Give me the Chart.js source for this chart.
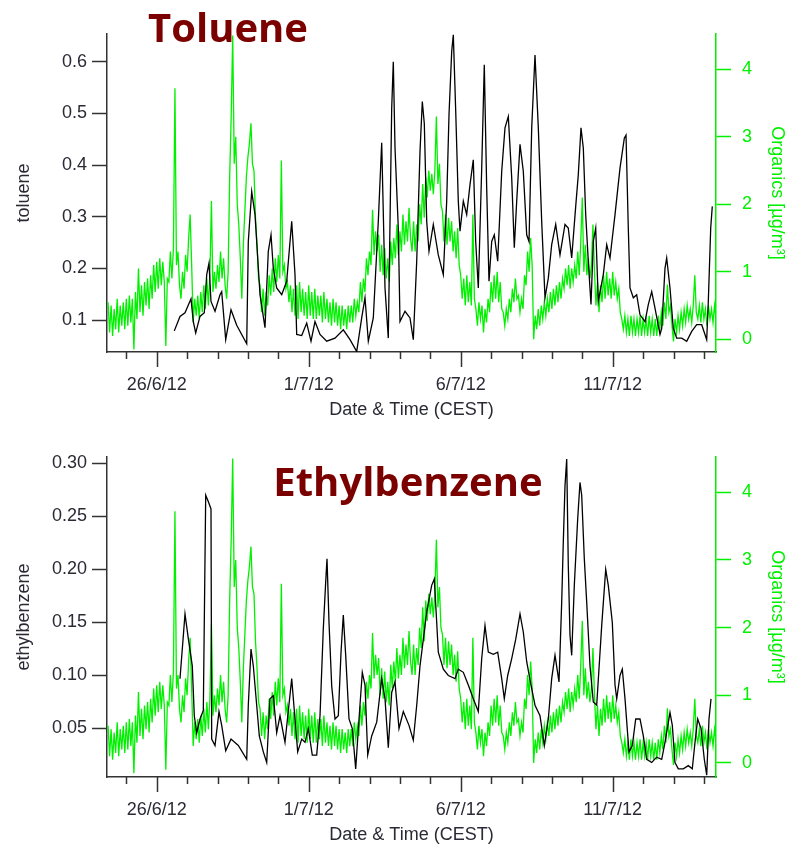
<!DOCTYPE html>
<html lang="en">
<head>
  <meta charset="UTF-8">
  <title>Toluene / Ethylbenzene vs Organics</title>
  <script src="https://cdn.jsdelivr.net/npm/chart.js"></script>
  <style>
    body { margin: 0; background: #fff; }
    .wrap { position: relative; width: 794px; height: 847px; }
    canvas { position: absolute; left: 0; }
    #c1 { top: 0; }
    #c2 { top: 423px; }
    .titulo {
      position: absolute;
      font-family: 'Open Sans', sans-serif;
      font-weight: bold;
      font-size: 40px;
      line-height: 40px;
      color: #7b0000;
      transform: translateX(-50%);
      white-space: nowrap;
    }
  </style>
</head>
<body>
  <div class="wrap">
    <canvas id="c1" width="794" height="423"></canvas>
    <canvas id="c2" width="794" height="424"></canvas>
    <div class="titulo" style="left:228px; top:7px;">Toluene</div>
    <div class="titulo" style="left:408px; top:461px;">Ethylbenzene</div>
  </div>

  <script>
    // x = days since 26/6/12 00:00 (CEST)
    const dateTickDays = [0, 5, 10, 15];
    const dateTickLabels = ['26/6/12', '1/7/12', '6/7/12', '11/7/12'];

    // Organics (µg/m3), one value every 0.05 day from day -1.6 (one row = one day)
    const orgStart = -1.6;
    const orgStep = 0.05;
    const organics = [
      0.55, 0.1, 0.5, 0.05, 0.45, 0.15, 0.6, 0.1, 0.5, 0.2, 0.55, 0.15, 0.6, 0.2, 0.65, 0.25, 0.6, -0.15, 0.7, 0.3,
      1.05, 0.4, 0.8, 0.35, 0.85, 0.5, 0.9, 0.45, 0.95, 0.6, 1.1, 0.7, 1.15, 0.75, 1.2, 0.8, 1.15, 0.85, -0.1, 0.9,
      0.85, 1.3, 0.9, 1.35, 3.72, 1.1, 1.3, 0.8, 0.6, 1.0, 0.75, 1.25, 1.0, 1.5, 1.85, 1.1, 0.25, 0.6, 0.35, 0.65,
      0.3, 0.7, 0.4, 0.8, 0.45, 0.9, 0.5, 0.95, 2.05, 0.7, 1.0, 0.75, 1.1, 0.85, 1.3, 0.9, 1.2, 0.8, 0.6, 1.0,
      2.4, 3.3, 4.5, 2.6, 3.0, 2.0, 1.7, 1.2, 0.6, 1.4, 1.9, 2.4, 2.7, 2.9, 3.2, 2.6, 2.5, 1.8, 1.4, 0.9,
      0.8, 0.4, 0.75, 0.35, 0.7, 0.5, 0.95, 0.65, 1.05, 0.7, 1.2, 0.85, 1.25, 0.9, 2.65, 1.0, 1.1, 0.75, 0.85, 0.55,
      0.8, 0.4, 0.75, 0.35, 0.8, 0.3, 0.85, 0.4, 0.75, 0.35, 0.7, 0.3, 0.8, 0.35, 0.7, 0.3, 0.75, 0.3, 0.65, 0.35,
      0.65, 0.25, 0.7, 0.3, 0.6, 0.25, 0.55, 0.2, 0.6, 0.25, 0.55, 0.2, 0.5, 0.15, 0.5, 0.2, 0.45, 0.15, 0.5, 0.25,
      0.5, 0.25, 0.6, 0.35, 0.55, 0.4, 0.85, 0.55, 0.9, 0.7, 1.2, 0.95, 1.3, 1.1, 1.92, 1.25, 1.6, 1.3, 1.55, 1.0,
      1.4, 0.95, 1.35, 0.9, 1.2, 0.85, 1.45, 1.1, 1.5, 1.2, 1.7, 1.25, 1.6, 1.3, 1.85, 1.4, 1.75, 1.45, 1.95, 1.5,
      1.3, 1.75, 1.3, 1.7, 1.45, 2.0, 1.7, 2.3, 1.8, 2.4, 2.1, 2.5, 2.2, 2.45, 2.15, 2.5, 3.3, 2.3, 2.6, 2.0,
      1.9, 1.45, 1.85, 1.4, 1.8, 1.45, 1.75, 1.3, 1.6, 1.2, 1.65, 1.1, 0.95, 0.6, 0.9, 0.5, 0.95, 0.55, 0.85, 0.5,
      1.85, 0.6, 0.45, 0.2, 0.55, 0.3, 0.5, 0.1, 0.45, 0.25, 0.6, 0.4, 0.85, 0.55, 0.95, 0.6, 1.0, 0.55, 0.85, 0.45,
      0.4, 0.2, 0.45, 0.3, 0.6, 0.4, 0.75, 0.55, 0.9, 0.6, 0.65, 0.4, 0.6, 0.45, 0.95, 0.8, 1.3, 1.0, 1.5, 1.1,
      0.0, 0.35, 0.15, 0.45, 0.2, 0.5, 0.3, 0.55, 0.35, 0.6, 0.4, 0.7, 0.45, 0.75, 0.5, 0.8, 0.55, 0.85, 0.6, 0.9,
      0.75, 1.05, 0.8, 1.1, 0.75, 1.05, 0.85, 1.1, 0.9, 1.3, 0.95, 1.45, 2.1, 1.0, 1.4, 0.95, 1.2, 0.9, 1.1, 1.7,
      1.0, 0.5, 0.85, 0.4, 0.8, 0.55, 0.95, 0.6, 1.0, 0.65, 0.9, 0.6, 1.0, 0.65, 0.85, 0.6, 0.75, 0.4, 0.3, 0.15,
      0.35, 0.1, 0.3, 0.05, 0.35, 0.1, 0.3, 0.05, 0.3, 0.1, 0.35, 0.05, 0.3, 0.1, 0.3, 0.05, 0.35, 0.1, 0.3, 0.05,
      0.3, 0.05, 0.35, 0.15, 0.4, 0.2, 0.55, 0.3, 0.81, 0.4, 0.5, 0.2, -0.03, 0.3, 0.1, 0.35, 0.15, 0.4, 0.2, 0.45,
      0.25, 0.5, 0.3, 0.45, 0.25, 0.5, 0.95, 0.4, 0.3, 0.5, 0.25, 0.55, 0.3, 0.45, 0.2, 0.5, 0.3, 0.45, 0.25, 0.5,
      0.3
    ];

    const tolDays = [
      0.579, 0.766, 0.931, 1.128, 1.204, 1.283, 1.424, 1.566, 1.645, 1.720,
      1.786, 1.918, 2.082, 2.138, 2.270, 2.444, 2.632, 2.961, 3.013, 3.125,
      3.234, 3.398, 3.562, 3.671, 3.760, 3.836, 3.947, 4.112, 4.276, 4.441,
      4.549, 4.605, 4.770, 4.934, 5.076, 5.207, 5.372, 5.592, 5.865, 6.138,
      6.359, 6.579, 6.743, 6.852, 6.961, 7.125, 7.289, 7.401, 7.510, 7.618,
      7.730, 7.783, 7.839, 7.947, 8.003, 8.168, 8.332, 8.441, 8.553, 8.661,
      8.737, 8.803, 8.882, 8.957, 9.099, 9.263, 9.428, 9.539, 9.615, 9.704,
      9.757, 9.836, 9.921, 9.977, 10.086, 10.197, 10.306, 10.414, 10.493, 10.579,
      10.691, 10.776, 10.855, 10.931, 11.020, 11.105, 11.217, 11.349, 11.457, 11.566,
      11.678, 11.763, 11.842, 11.951, 12.059, 12.171, 12.247, 12.336, 12.444, 12.553,
      12.664, 12.773, 12.882, 12.993, 13.125, 13.266, 13.431, 13.539, 13.651, 13.783,
      13.868, 13.957, 14.033, 14.112, 14.197, 14.286, 14.362, 14.441, 14.526, 14.691,
      14.803, 14.911, 15.076, 15.240, 15.382, 15.438, 15.513, 15.569, 15.678, 15.789,
      15.898, 16.063, 16.171, 16.283, 16.391, 16.556, 16.612, 16.720, 16.776, 16.885,
      16.993, 17.105, 17.270, 17.434, 17.599, 17.763, 17.928, 18.092, 18.145, 18.224,
      18.276
    ];
    const tolVals = [
      0.079, 0.107, 0.114, 0.141, 0.097, 0.075, 0.107, 0.114, 0.188, 0.210,
      0.136, 0.117, 0.149, 0.155, 0.062, 0.120, 0.090, 0.054, 0.252, 0.349,
      0.304, 0.149, 0.085, 0.233, 0.265, 0.200, 0.162, 0.149, 0.175, 0.291,
      0.188, 0.072, 0.070, 0.094, 0.059, 0.097, 0.072, 0.059, 0.065, 0.081,
      0.062, 0.039, 0.104, 0.143, 0.059, 0.104, 0.291, 0.443, 0.162, 0.065,
      0.510, 0.600, 0.433, 0.278, 0.097, 0.117, 0.104, 0.062, 0.214, 0.426,
      0.523, 0.480, 0.291, 0.233, 0.285, 0.226, 0.188, 0.330, 0.497, 0.620,
      0.652, 0.504, 0.330, 0.272, 0.330, 0.304, 0.362, 0.410, 0.252, 0.162,
      0.394, 0.594, 0.355, 0.175, 0.252, 0.265, 0.214, 0.388, 0.472, 0.494,
      0.375, 0.240, 0.330, 0.440, 0.388, 0.265, 0.252, 0.472, 0.613, 0.472,
      0.291, 0.143, 0.181, 0.246, 0.285, 0.226, 0.285, 0.278, 0.220, 0.320,
      0.381, 0.472, 0.433, 0.304, 0.214, 0.130, 0.252, 0.278, 0.136, 0.188,
      0.246, 0.220, 0.304, 0.394, 0.452, 0.458, 0.278, 0.162, 0.143, 0.149,
      0.110, 0.097, 0.130, 0.155, 0.123, 0.072, 0.084, 0.200, 0.220, 0.162,
      0.084, 0.065, 0.065, 0.059, 0.078, 0.091, 0.091, 0.062, 0.136, 0.278,
      0.320
    ];

    const ebDays = [
      0.766, 0.931, 1.039, 1.171, 1.237, 1.316, 1.424, 1.533, 1.612, 1.697,
      1.786, 1.809, 1.918, 2.049, 2.138, 2.270, 2.444, 2.684, 2.961, 3.013,
      3.102, 3.178, 3.289, 3.375, 3.507, 3.618, 3.727, 3.836, 3.947, 4.056,
      4.220, 4.441, 4.549, 4.638, 4.770, 4.878, 4.987, 5.118, 5.263, 5.372,
      5.480, 5.559, 5.602, 5.668, 5.757, 5.865, 5.974, 6.063, 6.138, 6.217,
      6.326, 6.434, 6.546, 6.655, 6.763, 6.852, 6.941, 7.072, 7.237, 7.401,
      7.510, 7.618, 7.730, 7.839, 7.970, 8.112, 8.299, 8.441, 8.553, 8.661,
      8.770, 8.882, 9.046, 9.132, 9.211, 9.263, 9.428, 9.592, 9.813, 9.921,
      10.086, 10.250, 10.414, 10.579, 10.691, 10.799, 10.908, 11.072, 11.217, 11.349,
      11.434, 11.546, 11.678, 11.809, 11.951, 12.059, 12.171, 12.313, 12.444, 12.609,
      12.750, 12.882, 12.993, 13.102, 13.234, 13.322, 13.375, 13.431, 13.487, 13.539,
      13.595, 13.651, 13.737, 13.849, 13.924, 13.980, 14.066, 14.145, 14.253, 14.362,
      14.474, 14.638, 14.770, 14.855, 14.987, 15.076, 15.132, 15.240, 15.316, 15.405,
      15.536, 15.645, 15.757, 15.898, 16.007, 16.118, 16.283, 16.447, 16.612, 16.720,
      16.885, 16.961, 17.049, 17.158, 17.322, 17.487, 17.618, 17.707, 17.796, 17.905,
      18.013, 18.092, 18.168, 18.234
    ];
    const ebVals = [
      0.097, 0.158, 0.135, 0.109, 0.062, 0.046, 0.059, 0.067, 0.270, 0.264,
      0.257, 0.040, 0.034, 0.066, 0.053, 0.029, 0.040, 0.034, 0.021, 0.072,
      0.125, 0.109, 0.072, 0.043, 0.028, 0.018, 0.078, 0.081, 0.046, 0.062,
      0.037, 0.097, 0.059, 0.028, 0.040, 0.037, 0.050, 0.025, 0.025, 0.062,
      0.144, 0.188, 0.210, 0.150, 0.090, 0.059, 0.062, 0.122, 0.157, 0.119,
      0.059, 0.050, 0.012, 0.059, 0.103, 0.091, 0.025, 0.043, 0.056, 0.097,
      0.078, 0.032, 0.084, 0.094, 0.050, 0.066, 0.053, 0.039, 0.072, 0.109,
      0.134, 0.160, 0.185, 0.191, 0.150, 0.122, 0.106, 0.100, 0.097, 0.106,
      0.103, 0.091, 0.078, 0.066, 0.116, 0.147, 0.122, 0.120, 0.122, 0.097,
      0.078, 0.100, 0.116, 0.134, 0.158, 0.141, 0.113, 0.091, 0.072, 0.062,
      0.034, 0.059, 0.097, 0.119, 0.094, 0.169, 0.226, 0.279, 0.304, 0.204,
      0.138, 0.119, 0.185, 0.248, 0.282, 0.270, 0.210, 0.169, 0.109, 0.075,
      0.072, 0.147, 0.200, 0.185, 0.150, 0.091, 0.078, 0.100, 0.106, 0.078,
      0.028, 0.034, 0.059, 0.059, 0.043, 0.021, 0.018, 0.023, 0.021, 0.037,
      0.065, 0.053, 0.018, 0.012, 0.012, 0.015, 0.012, 0.037, 0.059, 0.050,
      0.021, 0.006, 0.059, 0.078
    ];

    const corTexto = '#2a2a35';
    const corEixo = '#333333';
    const verde = '#00f000';
    const fonte = { family: "'Liberation Sans', Arial, sans-serif", size: 18 };

    function pares(xs, ys) {
      return ys.map((v, i) => ({ x: xs[i], y: v }));
    }
    const orgPts = organics.map((v, i) => ({ x: +(orgStart + i * orgStep).toFixed(3), y: v }));

    // daily minor ticks + longer major ticks under the date labels
    const tickDias = {
      id: 'tickDias',
      afterDraw(chart) {
        const sx = chart.scales.x;
        const ctx = chart.ctx;
        const y0 = chart.chartArea.bottom;
        ctx.save();
        ctx.strokeStyle = corEixo;
        ctx.lineWidth = 1.5;
        for (let d = Math.ceil(sx.min); d <= sx.max; d++) {
          const px = Math.round(sx.getPixelForValue(d)) + 0.5;
          const len = dateTickDays.includes(d) ? 15 : 7;
          ctx.beginPath();
          ctx.moveTo(px, y0);
          ctx.lineTo(px, y0 + len);
          ctx.stroke();
        }
        ctx.restore();
      }
    };

    function criarGrafico(id, nome, dias, vals, yMin, yMax, yStep, casas, y1Min, y1Max, alturaX, padTitulo) {
      const ctx = document.getElementById(id).getContext('2d');
      return new Chart(ctx, {
        type: 'line',
        data: {
          datasets: [
            { label: nome, data: pares(dias, vals), yAxisID: 'y', borderColor: '#000', borderWidth: 1.3, pointRadius: 0, tension: 0 },
            { label: 'Organics', data: orgPts, yAxisID: 'y1', borderColor: verde, borderWidth: 1.3, pointRadius: 0, tension: 0 }
          ]
        },
        plugins: [tickDias],
        options: {
          responsive: false,
          animation: false,
          devicePixelRatio: 1,
          layout: { padding: { top: 34, left: 0, right: 0, bottom: 0 } },
          plugins: { legend: { display: false }, tooltip: { enabled: false } },
          scales: {
            x: {
              type: 'linear',
              min: -1.635,
              max: 18.398,
              afterFit: s => { s.height = alturaX; },
              grid: { drawOnChartArea: false, drawTicks: false },
              border: { color: corEixo, width: 1.5 },
              ticks: {
                stepSize: 1, autoSkip: false, maxRotation: 0, includeBounds: false,
                padding: 22, color: corTexto, font: fonte,
                callback: v => {
                  const k = dateTickDays.indexOf(Math.round(v));
                  return k >= 0 ? dateTickLabels[k] : '';
                }
              },
              title: { display: true, text: 'Date & Time (CEST)', color: corTexto, font: fonte, padding: { top: 0, bottom: padTitulo } }
            },
            y: {
              position: 'left',
              min: yMin,
              max: yMax,
              afterFit: s => { s.width = 107; },
              grid: { drawOnChartArea: false, tickLength: 15, tickColor: corEixo, tickWidth: 1.5 },
              border: { color: corEixo, width: 1.5 },
              ticks: { stepSize: yStep, includeBounds: false, padding: 5, color: corTexto, font: fonte, callback: v => v.toFixed(casas) },
              title: { display: true, text: nome, color: corTexto, font: fonte, padding: { top: 13, bottom: 0 } }
            },
            y1: {
              position: 'right',
              min: y1Min,
              max: y1Max,
              afterFit: s => { s.width = 78; },
              grid: { drawOnChartArea: false, tickLength: 15, tickColor: verde, tickWidth: 1.5 },
              border: { color: verde, width: 1.5 },
              ticks: { stepSize: 1, includeBounds: false, padding: 11, color: verde, font: fonte },
              title: { display: true, text: 'Organics [µg/m³]', color: verde, font: fonte, padding: { top: 6, bottom: 0 } }
            }
          }
        }
      });
    }

    criarGrafico('c1', 'toluene', tolDays, tolVals, 0.0381, 0.6537, 0.1, 1, -0.188, 4.523, 71, 2);
    criarGrafico('c2', 'ethylbenzene', ebDays, ebVals, 0.0043, 0.306, 0.05, 2, -0.207, 4.522, 70, 1);
  </script>
</body>
</html>
